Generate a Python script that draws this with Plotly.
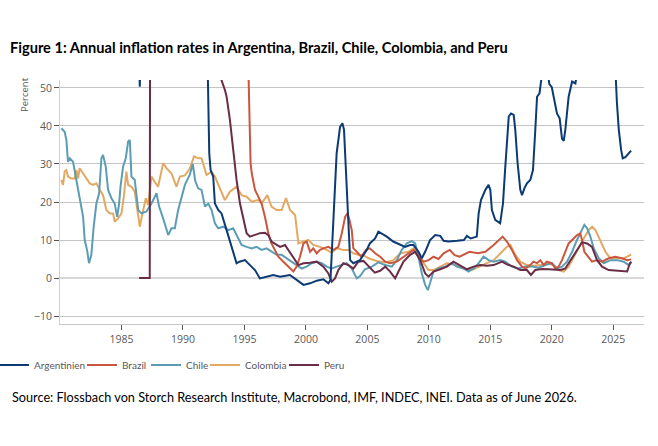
import plotly.graph_objects as go

# ---------------- data (decimal years, annual inflation in %) ----------------
ar_year = [1980.0, 1981.0, 1982.0, 1983.0, 1984.0, 1985.0, 1985.6, 1986.0, 1986.4, 1986.49, 1986.58,
           1987.0, 1988.0, 1989.0, 1990.0, 1991.0, 1991.6, 1991.9, 1992.14, 1992.25, 1992.46, 1992.6,
           1992.87, 1993.14, 1993.55, 1993.96, 1994.36, 1994.6, 1995.04, 1995.45, 1995.86, 1996.26,
           1996.8, 1997.35, 1997.9, 1998.7, 1999.25, 1999.8, 2000.34, 2000.88, 2001.42, 2001.83, 2002.0,
           2002.24, 2002.5, 2002.78, 2002.97, 2003.1, 2003.32, 2003.6, 2003.86, 2004.4, 2004.95, 2005.2,
           2005.63, 2005.9, 2006.17, 2006.58, 2007.1, 2007.67, 2008.07, 2008.48, 2008.75, 2009.16,
           2009.43, 2009.7, 2010.1, 2010.52, 2010.93, 2011.2, 2011.6, 2012.3, 2012.85, 2013.1, 2013.4,
           2013.9, 2014.05, 2014.24, 2014.6, 2014.86, 2015.0, 2015.13, 2015.4, 2015.8, 2016.03, 2016.2,
           2016.35, 2016.5, 2016.68, 2016.9, 2017.03, 2017.22, 2017.44, 2017.58, 2017.77, 2017.98,
           2018.25, 2018.47, 2018.66, 2018.8, 2019.0, 2019.3, 2019.6, 2019.74, 2019.8, 2020.0, 2020.15,
           2020.42, 2020.64, 2020.83, 2020.97, 2021.1, 2021.37, 2021.65, 2021.92, 2022.1, 2022.5, 2023.0,
           2023.5, 2024.0, 2024.5, 2024.9, 2025.1, 2025.3, 2025.45, 2025.64, 2025.77, 2025.99, 2026.13,
           2026.26, 2026.45]
ar_val = [88, 105, 130, 300, 500, 900, 300, 80, 62, 50.3, 62,
          95, 250, 1500, 2500, 300, 90, 75, 32.8, 28.4, 26.7, 19.6,
          17.9, 17.0, 12.6, 8.2, 3.9, 4.3, 4.7, 3.4, 2.1, -0.1,
          0.35, 0.8, 0.35, 0.8, -0.5, -1.8, -1.4, -0.7, -0.35, -1.4, -0.5,
          15.3, 32.8, 39.8, 40.7, 39.0, 24.0, 4.7, 3.9, 4.7, 7.4, 9.1,
          10.4, 12.2, 11.7, 10.9, 9.6, 8.7, 8.2, 8.7, 8.7, 6.9,
          5.2, 6.9, 10.0, 11.3, 11.1, 9.8, 9.6, 9.8, 10.0, 11.1, 10.4,
          10.9, 17.0, 20.5, 23.2, 24.5, 23.2, 17.9, 15.3, 14.4, 19.6, 28.4,
          37.2, 42.5, 43.3, 42.9, 39.0, 30.2, 23.2, 21.8, 23.6, 24.9,
          25.8, 28.4, 39.0, 47.7, 48.6, 56, 56, 52.5, 51.0, 50.2, 47.7,
          43.3, 42.0, 36.7, 36.1, 39.0, 47.7, 51.7, 51.2, 55, 70, 100,
          200, 280, 250, 110, 60, 46.0, 39.0, 33.7, 31.5, 31.8, 32.4,
          32.8, 33.5]

br_year = [1980.0, 1982.0, 1983.0, 1985.0, 1986.0, 1987.0, 1989.0, 1990.0, 1991.0, 1993.0, 1994.0,
           1994.7, 1995.0, 1995.3, 1995.45, 1995.5, 1995.6, 1995.86, 1996.13, 1996.4, 1996.67, 1996.94,
           1997.2, 1997.48, 1997.76, 1998.17, 1998.57, 1998.98, 1999.25, 1999.52, 1999.8, 2000.06,
           2000.34, 2000.6, 2000.88, 2001.15, 2001.42, 2001.83, 2002.24, 2002.64, 2002.92, 2003.19,
           2003.38, 2003.54, 2003.73, 2003.86, 2004.14, 2004.5, 2004.9, 2005.2, 2005.63, 2006.04,
           2006.45, 2006.85, 2007.4, 2007.94, 2008.48, 2008.75, 2009.16, 2009.57, 2009.98, 2010.38,
           2010.79, 2011.2, 2011.7, 2012.1, 2012.5, 2013.3, 2014.0, 2014.6, 2015.27, 2015.8, 2016.0,
           2016.35, 2016.76, 2017.17, 2017.58, 2017.85, 2018.25, 2018.5, 2018.8, 2019.07, 2019.34,
           2019.6, 2020.0, 2020.29, 2020.56, 2020.83, 2021.1, 2021.37, 2021.78, 2022.05, 2022.32,
           2022.46, 2022.65, 2023.0, 2023.27, 2023.68, 2024.09, 2024.63, 2025.17, 2025.7, 2026.13,
           2026.45]
br_val = [90, 100, 200, 230, 100, 300, 1500, 3000, 400, 2500, 3000,
          900, 100, 55, 41.6, 30.2, 27.5, 23.2, 21.4, 19.6, 16.1, 11.8,
          9.1, 7.4, 5.6, 4.3, 3.0, 1.7, 3.0, 5.6, 9.1, 9.6,
          6.9, 7.8, 6.5, 7.4, 7.8, 8.2, 7.4, 8.2, 11.8, 16.1,
          17.0, 15.3, 12.6, 7.8, 6.9, 5.6, 7.4, 7.8, 6.5, 5.6,
          4.3, 3.9, 4.3, 5.6, 6.9, 7.4, 5.6, 4.3, 4.7, 5.6,
          5.0, 6.5, 7.4, 6.0, 5.6, 6.9, 6.5, 6.9, 8.7, 10.4, 10.9,
          9.6, 7.4, 4.7, 3.0, 2.5, 3.4, 4.3, 3.9, 4.7, 3.4,
          4.3, 3.9, 2.5, 3.0, 4.7, 6.9, 9.1, 10.4, 11.3, 11.7,
          10.0, 6.9, 5.6, 4.3, 4.7, 4.3, 5.2, 5.6, 5.2, 4.7,
          4.9]

cl_year = [1980.11, 1980.38, 1980.52, 1980.65, 1980.79, 1981.06, 1981.33, 1981.6, 1981.88, 1982.01,
           1982.2, 1982.36, 1982.55, 1982.74, 1982.96, 1983.18, 1983.37, 1983.5, 1983.72, 1983.91,
           1984.18, 1984.45, 1984.65, 1984.81, 1984.92, 1985.13, 1985.35, 1985.54, 1985.68, 1985.81,
           1986.08, 1986.36, 1986.63, 1987.03, 1987.44, 1987.85, 1988.06, 1988.39, 1988.8, 1989.07,
           1989.34, 1989.61, 1989.88, 1990.16, 1990.56, 1990.8, 1991.0, 1991.24, 1991.51, 1991.79,
           1992.06, 1992.33, 1992.6, 1992.87, 1993.28, 1993.69, 1994.09, 1994.5, 1994.77, 1995.18,
           1995.59, 1995.99, 1996.4, 1996.8, 1997.2, 1997.62, 1998.03, 1998.44, 1998.84, 1999.25,
           1999.66, 2000.06, 2000.47, 2000.88, 2001.29, 2001.69, 2002.1, 2002.51, 2002.92, 2003.32,
           2003.73, 2004.14, 2004.41, 2004.8, 2005.36, 2005.9, 2006.45, 2006.99, 2007.4, 2007.8,
           2008.21, 2008.62, 2008.89, 2009.16, 2009.43, 2009.7, 2009.92, 2010.11, 2010.38, 2010.79,
           2011.33, 2011.87, 2012.28, 2012.82, 2013.23, 2013.64, 2014.05, 2014.45, 2014.86, 2015.27,
           2015.81, 2016.22, 2016.76, 2017.3, 2017.85, 2018.39, 2018.93, 2019.47, 2020.0, 2020.42,
           2020.83, 2021.24, 2021.65, 2022.05, 2022.46, 2022.65, 2022.87, 2023.14, 2023.41, 2023.82,
           2024.23, 2024.77, 2025.31, 2025.85, 2026.26, 2026.45]
cl_val = [39.4, 38.5, 36.3, 30.6, 31.5, 30.6, 25.8, 20.5, 16.1, 10.0,
          7.4, 3.9, 6.1, 13.5, 19.6, 22.3, 31.5, 32.4, 29.3, 23.2,
          21.0, 19.6, 16.1, 19.6, 24.0, 29.3, 31.5, 35.9, 36.3, 26.7,
          25.8, 17.9, 17.0, 17.5, 19.6, 22.3, 18.8, 15.7, 11.3, 13.1,
          13.1, 17.9, 21.4, 24.5, 27.2, 30.0, 25.5, 23.6, 23.2, 18.8,
          19.6, 17.9, 14.4, 13.1, 13.5, 12.6, 13.1, 10.4, 8.7, 8.2,
          7.8, 8.2, 7.4, 7.8, 6.9, 6.1, 6.1, 5.2, 4.3, 3.4,
          2.5, 3.0, 3.9, 4.3, 3.9, 3.0, 2.5, 3.0, 3.4, 3.9,
          2.5, -0.1, 0.5, 2.3, 3.0, 4.1, 3.4, 3.0, 4.7, 7.4,
          9.1, 9.7, 9.1, 5.6, 1.2, -1.8, -3.2, -1.4, 1.7, 2.5,
          3.0, 3.9, 3.0, 2.5, 1.7, 2.5, 3.9, 5.6, 4.7, 4.3,
          4.7, 4.3, 3.0, 2.5, 3.0, 3.0, 2.7, 3.4, 3.9, 2.5,
          3.0, 4.3, 6.9, 10.0, 12.6, 14.0, 13.1, 10.9, 7.8, 5.2,
          3.9, 4.7, 4.7, 4.3, 3.4, 4.0]

co_year = [1980.11, 1980.25, 1980.38, 1980.52, 1980.65, 1980.93, 1981.2, 1981.33, 1981.47, 1981.6,
           1981.88, 1982.15, 1982.42, 1982.69, 1982.96, 1983.23, 1983.5, 1983.77, 1984.05, 1984.32,
           1984.45, 1984.73, 1985.0, 1985.19, 1985.4, 1985.54, 1985.81, 1986.08, 1986.36, 1986.49,
           1986.71, 1986.98, 1987.17, 1987.44, 1987.71, 1987.98, 1988.39, 1988.66, 1989.07, 1989.34,
           1989.48, 1989.75, 1990.16, 1990.56, 1990.9, 1991.24, 1991.51, 1991.92, 1992.33, 1992.6,
           1993.01, 1993.41, 1993.82, 1994.36, 1994.77, 1995.18, 1995.59, 1996.13, 1996.4, 1996.86,
           1997.2, 1997.62, 1998.03, 1998.38, 1998.71, 1999.12, 1999.39, 1999.8, 2000.2, 2000.6,
           2001.15, 2001.69, 2002.1, 2002.51, 2003.05, 2003.46, 2003.86, 2004.27, 2004.68, 2005.09,
           2005.77, 2006.45, 2007.12, 2007.67, 2008.35, 2008.75, 2009.16, 2009.57, 2009.98, 2010.38,
           2010.93, 2011.47, 2012.15, 2012.82, 2013.5, 2014.05, 2014.72, 2015.27, 2015.81, 2016.35,
           2016.63, 2017.03, 2017.44, 2017.98, 2018.52, 2019.07, 2019.61, 2020.15, 2020.56, 2020.97,
           2021.37, 2021.78, 2022.19, 2022.6, 2023.0, 2023.28, 2023.55, 2023.95, 2024.36, 2024.77,
           2025.31, 2025.85, 2026.26, 2026.45]
co_val = [25.8, 24.5, 28.0, 28.4, 26.7, 26.2, 26.2, 28.4, 26.2, 28.9,
          27.5, 26.2, 24.9, 24.5, 24.9, 23.2, 21.8, 17.9, 17.0, 17.0,
          14.8, 15.7, 17.0, 21.4, 28.0, 24.5, 24.0, 22.7, 16.1, 13.5,
          17.0, 21.0, 19.2, 26.7, 25.3, 24.0, 30.2, 28.9, 27.5, 24.9,
          24.0, 26.7, 27.0, 28.8, 32.0, 31.5, 31.5, 27.1, 28.0, 26.7,
          23.6, 20.5, 22.7, 24.0, 21.8, 21.4, 20.1, 20.5, 19.6, 21.8,
          18.8, 17.9, 17.9, 21.0, 17.9, 16.6, 9.1, 9.6, 10.0, 8.7,
          8.2, 7.4, 6.7, 7.8, 7.4, 7.4, 6.5, 6.1, 6.0, 5.2,
          4.5, 4.1, 4.7, 6.5, 6.9, 7.8, 6.5, 3.9, 2.1, 2.1,
          3.0, 3.9, 3.4, 2.5, 2.1, 3.0, 3.9, 4.7, 6.5, 8.2,
          8.7, 6.1, 4.3, 3.4, 3.2, 3.4, 3.9, 3.4, 2.1, 1.7,
          3.0, 5.6, 8.2, 10.4, 12.6, 13.5, 12.6, 10.0, 6.9, 5.2,
          5.2, 5.2, 5.8, 6.2]

pe_year = [1986.43, 1987.3, 1987.35, 1988.0, 1989.0, 1990.0, 1991.0, 1992.0, 1992.9, 1993.14, 1993.41,
           1993.55, 1993.82, 1994.09, 1994.36, 1994.64, 1994.91, 1995.18, 1995.45, 1995.86, 1996.26,
           1996.67, 1996.94, 1997.2, 1997.48, 1997.9, 1998.3, 1998.57, 1998.98, 1999.39, 1999.8,
           2000.34, 2000.88, 2001.42, 2001.83, 2002.1, 2002.37, 2002.64, 2003.05, 2003.46, 2003.86,
           2004.27, 2004.68, 2005.09, 2005.6, 2006.04, 2006.45, 2006.85, 2007.26, 2007.53, 2007.94,
           2008.48, 2008.89, 2009.3, 2009.7, 2009.98, 2010.38, 2010.93, 2011.47, 2012.0, 2012.55,
           2013.1, 2013.64, 2014.18, 2014.72, 2015.27, 2015.95, 2016.35, 2016.9, 2017.44, 2017.98,
           2018.3, 2018.66, 2019.2, 2019.75, 2020.29, 2020.7, 2021.1, 2021.37, 2021.78, 2022.19,
           2022.46, 2022.87, 2023.27, 2023.68, 2024.09, 2024.63, 2025.17, 2025.7, 2026.13, 2026.35,
           2026.48]
pe_val = [0, 0, 120, 400, 2500, 7000, 400, 70, 57, 52, 49.5,
          47.7, 41.6, 32.8, 25.8, 19.6, 15.3, 11.8, 10.9, 11.3, 11.8,
          11.9, 11.3, 9.6, 9.1, 8.2, 8.7, 7.4, 5.2, 3.4, 3.9,
          4.0, 4.3, 3.0, 1.2, -1.0, -0.1, 2.1, 3.9, 3.4, 2.5,
          4.3, 4.5, 3.0, 1.4, 1.9, 3.0, 1.7, -0.1, 1.7, 4.3,
          6.1, 6.9, 4.7, 1.2, 0.35, 1.7, 2.3, 3.0, 4.3, 3.4,
          2.3, 3.0, 3.4, 3.2, 3.4, 4.3, 3.6, 3.0, 2.1, 2.1,
          0.8, 2.1, 2.4, 2.3, 2.1, 2.1, 2.5, 3.9, 6.1, 8.2,
          9.4, 9.1, 8.2, 4.7, 3.0, 2.1, 1.9, 1.7, 1.7, 3.9,
          4.3]

series_names = ["Argentinien", "Brazil", "Chile", "Colombia", "Peru"]
x_ticks = [1985, 1990, 1995, 2000, 2005, 2010, 2015, 2020, 2025]
y_ticks = [-10, 0, 10, 20, 30, 40, 50]

title_text = "Figure 1: Annual inflation rates in Argentina, Brazil, Chile, Colombia, and Peru"
source_text = "Source: Flossbach von Storch Research Institute, Macrobond, IMF, INDEC, INEI. Data as of June 2026."

# ---------------- figure ----------------
colors = {"Argentinien": "#0b3a74", "Brazil": "#c9573f", "Chile": "#5c9db5",
          "Colombia": "#e3a862", "Peru": "#6a2c46"}
data = {"Argentinien": (ar_year, ar_val), "Brazil": (br_year, br_val), "Chile": (cl_year, cl_val),
        "Colombia": (co_year, co_val), "Peru": (pe_year, pe_val)}
draw_order = ["Colombia", "Chile", "Brazil", "Peru", "Argentinien"]
legend_ids = ["legend", "legend2", "legend3", "legend4", "legend5"]
legend_left_px = [-6, 82, 146, 205, 284]   # left edge of each legend entry box

PLOT_L, PLOT_R, PLOT_T, PLOT_B = 60, 644, 80, 324
PW, PH = PLOT_R - PLOT_L, PLOT_B - PLOT_T


def px_x(px):
    return (px - PLOT_L) / PW


def px_y(py):
    return (PLOT_B - py) / PH


fig = go.Figure()
for name in draw_order:
    xs, ys = data[name]
    fig.add_trace(go.Scatter(x=xs, y=ys, mode="lines", name=name,
                             legend=legend_ids[series_names.index(name)],
                             line=dict(color=colors[name], width=2), hoverinfo="skip"))

tick_font = dict(family="Open Sans", size=10.5, color="#595959")
legend_font = dict(family="Lato", size=10, color="#595959")
layout_legends = {}
for lid, lx in zip(legend_ids, legend_left_px):
    layout_legends[lid] = dict(orientation="h", x=px_x(lx), xanchor="left", y=px_y(365),
                               yanchor="middle", font=legend_font, itemwidth=30,
                               bgcolor="rgba(0,0,0,0)", borderwidth=0)

fig.update_layout(
    width=658, height=446,
    margin=dict(l=PLOT_L, r=658 - PLOT_R, t=PLOT_T, b=446 - PLOT_B, autoexpand=False),
    paper_bgcolor="white", plot_bgcolor="white",
    showlegend=True,
    title=dict(text="<b>" + title_text + "</b>", x=10 / 658, xanchor="left",
               y=1 - 48 / 446, yanchor="middle", yref="container",
               font=dict(family="Lato", size=14.6, color="#000000")),
    xaxis=dict(range=[1980.0, 2027.5], tickvals=x_ticks, showgrid=False, zeroline=False,
               showline=True, linecolor="#c8c8c8", linewidth=1,
               ticks="outside", ticklen=5, tickcolor="#555555", tickwidth=1,
               tickfont=tick_font),
    yaxis=dict(range=[-12.1, 52.1], tickvals=y_ticks, showgrid=True, gridcolor="#c4c4c4",
               gridwidth=1, zeroline=True, zerolinecolor="#d8d8d8", zerolinewidth=2,
               showline=True, linecolor="#d0d0d0", linewidth=1,
               ticks="outside", ticklen=5, tickcolor="#555555", tickwidth=1,
               tickfont=tick_font),
    annotations=[
        dict(text="Percent", textangle=-90, xref="paper", yref="paper",
             x=px_x(24), y=px_y(95), xanchor="center", yanchor="middle",
             showarrow=False, font=dict(family="Open Sans", size=9.5, color="#595959")),
        dict(text=source_text, xref="paper", yref="paper", x=px_x(10),
             y=px_y(397), xanchor="left", yanchor="middle", showarrow=False,
             font=dict(family="Lato", size=12.7, color="#000000")),
    ],
    **layout_legends,
)

fig.write_html("out.html")
